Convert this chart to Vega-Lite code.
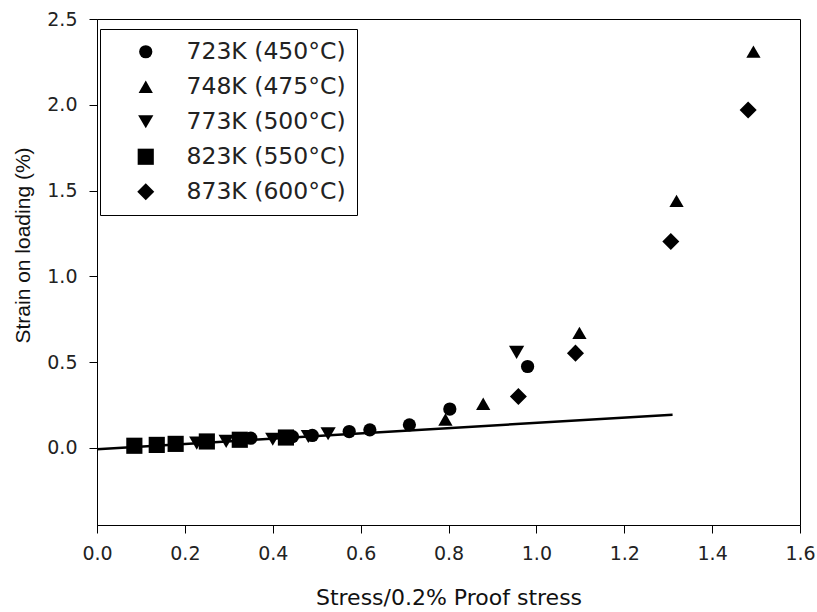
{
  "$schema": "https://vega.github.io/schema/vega-lite/v6.json",
  "width": 703,
  "height": 506,
  "autosize": {"type": "none"},
  "padding": {"left": 97, "top": 19, "right": 17, "bottom": 87},
  "background": "white",
  "config": {
    "view": {"stroke": "black", "strokeWidth": 1},
    "axis": {
      "grid": false,
      "domainColor": "black",
      "tickColor": "black",
      "tickSize": 8,
      "labelFont": "DejaVu Sans",
      "labelFontSize": 19,
      "labelColor": "#222",
      "labelFlush": false,
      "labelOverlap": false,
      "titleFontWeight": "normal",
      "titleColor": "#111"
    }
  },
  "datasets": {
    "fit": [
      {"stress": 0.0, "strain": -0.008},
      {"stress": 1.31, "strain": 0.193}
    ],
    "pts": [
      {"stress": 0.35, "strain": 0.056, "T": "723K (450°C)"},
      {"stress": 0.445, "strain": 0.065, "T": "723K (450°C)"},
      {"stress": 0.49, "strain": 0.072, "T": "723K (450°C)"},
      {"stress": 0.574, "strain": 0.095, "T": "723K (450°C)"},
      {"stress": 0.621, "strain": 0.105, "T": "723K (450°C)"},
      {"stress": 0.711, "strain": 0.134, "T": "723K (450°C)"},
      {"stress": 0.803, "strain": 0.226, "T": "723K (450°C)"},
      {"stress": 0.98, "strain": 0.474, "T": "723K (450°C)"},
      {"stress": 0.793, "strain": 0.165, "T": "748K (475°C)"},
      {"stress": 0.879, "strain": 0.257, "T": "748K (475°C)"},
      {"stress": 1.098, "strain": 0.67, "T": "748K (475°C)"},
      {"stress": 1.319, "strain": 1.44, "T": "748K (475°C)"},
      {"stress": 1.494, "strain": 2.31, "T": "748K (475°C)"},
      {"stress": 0.227, "strain": 0.027, "T": "773K (500°C)"},
      {"stress": 0.294, "strain": 0.037, "T": "773K (500°C)"},
      {"stress": 0.40, "strain": 0.05, "T": "773K (500°C)"},
      {"stress": 0.481, "strain": 0.066, "T": "773K (500°C)"},
      {"stress": 0.526, "strain": 0.082, "T": "773K (500°C)"},
      {"stress": 0.955, "strain": 0.556, "T": "773K (500°C)"},
      {"stress": 0.085, "strain": 0.012, "T": "823K (550°C)"},
      {"stress": 0.136, "strain": 0.017, "T": "823K (550°C)"},
      {"stress": 0.179, "strain": 0.023, "T": "823K (550°C)"},
      {"stress": 0.25, "strain": 0.037, "T": "823K (550°C)"},
      {"stress": 0.325, "strain": 0.047, "T": "823K (550°C)"},
      {"stress": 0.43, "strain": 0.06, "T": "823K (550°C)"},
      {"stress": 0.959, "strain": 0.299, "T": "873K (600°C)"},
      {"stress": 1.089, "strain": 0.552, "T": "873K (600°C)"},
      {"stress": 1.306, "strain": 1.203, "T": "873K (600°C)"},
      {"stress": 1.482, "strain": 1.97, "T": "873K (600°C)"}
    ]
  },
  "encoding": {
    "x": {
      "field": "stress",
      "type": "quantitative",
      "scale": {"domain": [0, 1.6], "nice": false, "zero": false},
      "axis": {
        "values": [0, 0.2, 0.4, 0.6, 0.8, 1.0, 1.2, 1.4, 1.6],
        "format": ".1f",
        "labelPadding": 11,
        "title": "Stress/0.2% Proof stress",
        "titleFont": "DejaVu Sans",
        "titleFontSize": 22,
        "titleY": 79,
        "titleBaseline": "alphabetic"
      }
    },
    "y": {
      "field": "strain",
      "type": "quantitative",
      "scale": {"domain": [-0.45, 2.5], "nice": false, "zero": false},
      "axis": {
        "values": [0, 0.5, 1.0, 1.5, 2.0, 2.5],
        "format": ".1f",
        "labelPadding": 12,
        "title": "Strain on loading (%)",
        "titleFont": "Liberation Sans",
        "titleFontSize": 21,
        "titleX": -74,
        "titleY": 226,
        "titleAngle": -90,
        "titleAlign": "center",
        "titleBaseline": "middle"
      }
    }
  },
  "layer": [
    {
      "data": {"name": "fit"},
      "mark": {"type": "line", "color": "black", "strokeWidth": 2.5},
      "encoding": {}
    },
    {
      "data": {"name": "pts"},
      "mark": {"type": "point", "filled": true, "opacity": 1, "color": "black", "strokeWidth": 0},
      "encoding": {
        "shape": {
          "field": "T",
          "type": "nominal",
          "scale": {
            "domain": ["723K (450°C)", "748K (475°C)", "773K (500°C)", "823K (550°C)", "873K (600°C)"],
            "range": ["circle", "triangle-up", "triangle-down", "square", "diamond"]
          },
          "legend": {
            "orient": "none",
            "legendX": 3,
            "legendY": 10,
            "title": null,
            "labelFont": "DejaVu Sans",
            "labelFontSize": 23.5,
            "labelColor": "#222",
            "strokeColor": "black",
            "fillColor": "white",
            "padding": 11,
            "rowPadding": 10,
            "symbolOffset": 23,
            "labelOffset": 29,
            "symbolFillColor": "black",
            "symbolStrokeWidth": 0
          }
        },
        "size": {
          "field": "T",
          "type": "nominal",
          "scale": {
            "domain": ["723K (450°C)", "748K (475°C)", "773K (500°C)", "823K (550°C)", "873K (600°C)"],
            "range": [175, 290, 290, 160, 256]
          }
        }
      }
    }
  ]
}
